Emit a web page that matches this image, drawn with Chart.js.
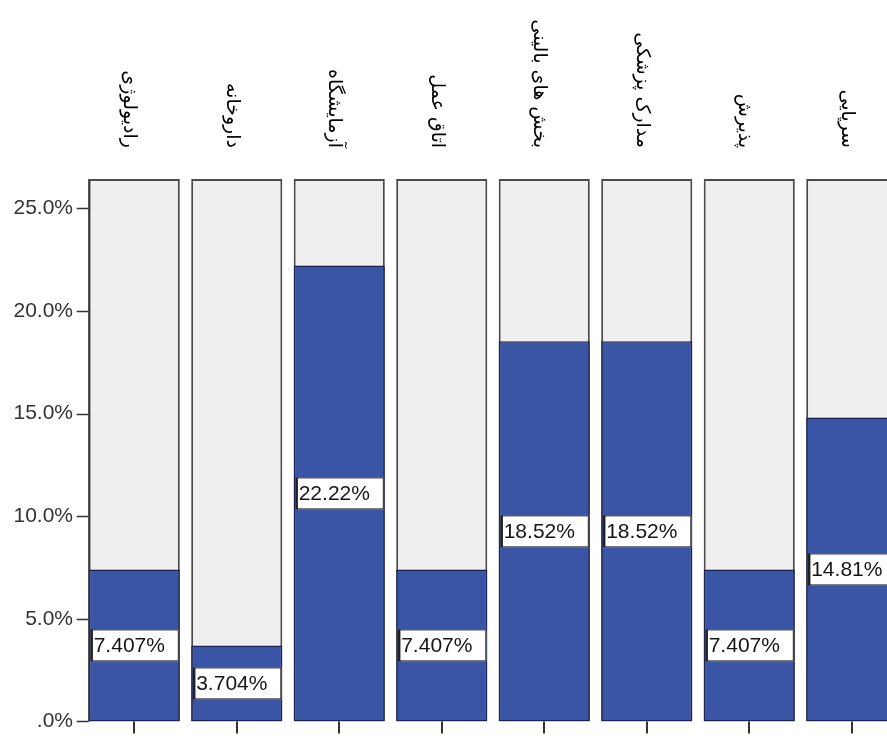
<!DOCTYPE html>
<html><head><meta charset="utf-8">
<script src="https://cdn.jsdelivr.net/npm/chart.js@4.4.0/dist/chart.umd.min.js"></script>
<style>
html,body{margin:0;padding:0;overflow:hidden;background:#fff;width:887px;height:744px}
#wrap{width:903px;height:744px;position:relative}
canvas{display:block}
</style></head><body><div id="wrap"><canvas id="c" width="903" height="744"></canvas></div>
<script>
const categories = ['رادیولوژی','داروخانه','آزمایشگاه','اتاق عمل','بخش های بالینی','مدارک پزشکی','پذیرش','سرپایی'];
const percentValues = [7.407, 3.704, 22.22, 7.407, 18.52, 18.52, 7.407, 14.81];
const yTickValues = [0, 5, 10, 15, 20, 25];
const yAxisMax = 26.43;

const numFont = '21px "Liberation Sans", Arial, sans-serif';
const labelFont = '19px "DejaVu Sans", sans-serif';

const overlay = {
  id: 'overlay',
  afterDatasetsDraw(chart) {
    const ctx = chart.ctx;
    const xs = chart.scales.x, ys = chart.scales.y;
    const area = chart.chartArea;
    const bg = chart.getDatasetMeta(1).data;
    const axisX = bg[0].x - bg[0].width / 2;
    ctx.save();
    // y axis line
    ctx.strokeStyle = '#333';
    ctx.lineWidth = 1.5;
    ctx.beginPath();
    ctx.moveTo(axisX + 0.25, ys.getPixelForValue(yAxisMax));
    ctx.lineTo(axisX + 0.25, ys.getPixelForValue(0));
    ctx.stroke();
    // y tick marks
    yTickValues.forEach(v => {
      const y = Math.round(ys.getPixelForValue(v)) + 0.5;
      ctx.beginPath();
      ctx.moveTo(axisX - 12, y);
      ctx.lineTo(axisX, y);
      ctx.stroke();
    });
    // x tick marks
    ctx.lineWidth = 2;
    categories.forEach((c, i) => {
      const x = Math.round(xs.getPixelForValue(i));
      ctx.beginPath();
      ctx.moveTo(x, area.bottom);
      ctx.lineTo(x, area.bottom + 12);
      ctx.stroke();
    });
    // data label boxes
    const bars = chart.getDatasetMeta(0).data;
    ctx.font = numFont;
    ctx.textBaseline = 'middle';
    ctx.textAlign = 'left';
    bars.forEach((b, i) => {
      const left = b.x - b.width / 2 + 2;
      const w = b.width - 3;
      const cy = (b.y + b.base) / 2;
      const h = 32;
      ctx.fillStyle = '#fff';
      ctx.fillRect(left, cy - h / 2, w, h);
      ctx.strokeStyle = '#222';
      ctx.lineWidth = 1;
      ctx.strokeRect(left + 0.5, cy - h / 2 + 0.5, w - 1, h - 1);
      ctx.lineWidth = 2.5;
      ctx.beginPath();
      ctx.moveTo(left + 1, cy - h / 2);
      ctx.lineTo(left + 1, cy + h / 2);
      ctx.stroke();
      ctx.fillStyle = '#151515';
      ctx.fillText(percentValues[i].toPrecision(4) + '%', left + 3, cy + 1);
    });
    // rotated category labels at top
    ctx.font = labelFont;
    ctx.fillStyle = '#000';
    categories.forEach((c, i) => {
      const x = xs.getPixelForValue(i) - 5;
      ctx.save();
      ctx.translate(x, 148);
      ctx.rotate(Math.PI / 2);
      ctx.textAlign = 'right';
      ctx.textBaseline = 'middle';
      ctx.fillText(c, 0, 0);
      ctx.restore();
    });
    ctx.restore();
  }
};

new Chart(document.getElementById('c'), {
  type: 'bar',
  data: {
    labels: categories,
    datasets: [
      {
        data: percentValues,
        backgroundColor: '#3a54a6',
        borderColor: '#1b2250',
        borderWidth: 1.5,
        borderSkipped: false,
        grouped: false,
        order: 1,
        barPercentage: 0.889,
        categoryPercentage: 1
      },
      {
        data: categories.map(() => yAxisMax),
        backgroundColor: '#efefef',
        borderColor: '#4b4b4b',
        borderWidth: 2,
        borderSkipped: false,
        grouped: false,
        order: 2,
        barPercentage: 0.889,
        categoryPercentage: 1
      }
    ]
  },
  options: {
    responsive: false,
    animation: false,
    devicePixelRatio: 1,
    layout: { padding: { top: 179, bottom: 12, left: 0, right: 0 } },
    plugins: { legend: { display: false }, tooltip: { enabled: false } },
    scales: {
      x: { type: 'category', display: false, offset: true },
      y: {
        min: 0,
        max: yAxisMax,
        afterBuildTicks: s => { s.ticks = yTickValues.map(v => ({ value: v })); },
        afterFit: s => { s.width = 83; },
        grid: { display: false, drawTicks: false, tickLength: 0 },
        border: { display: false },
        ticks: {
          padding: 10,
          color: '#333',
          font: { family: '"Liberation Sans", Arial, sans-serif', size: 21 },
          callback: v => v === 0 ? '.0%' : v.toFixed(1) + '%'
        }
      }
    }
  },
  plugins: [overlay]
});
</script>
</body></html>
